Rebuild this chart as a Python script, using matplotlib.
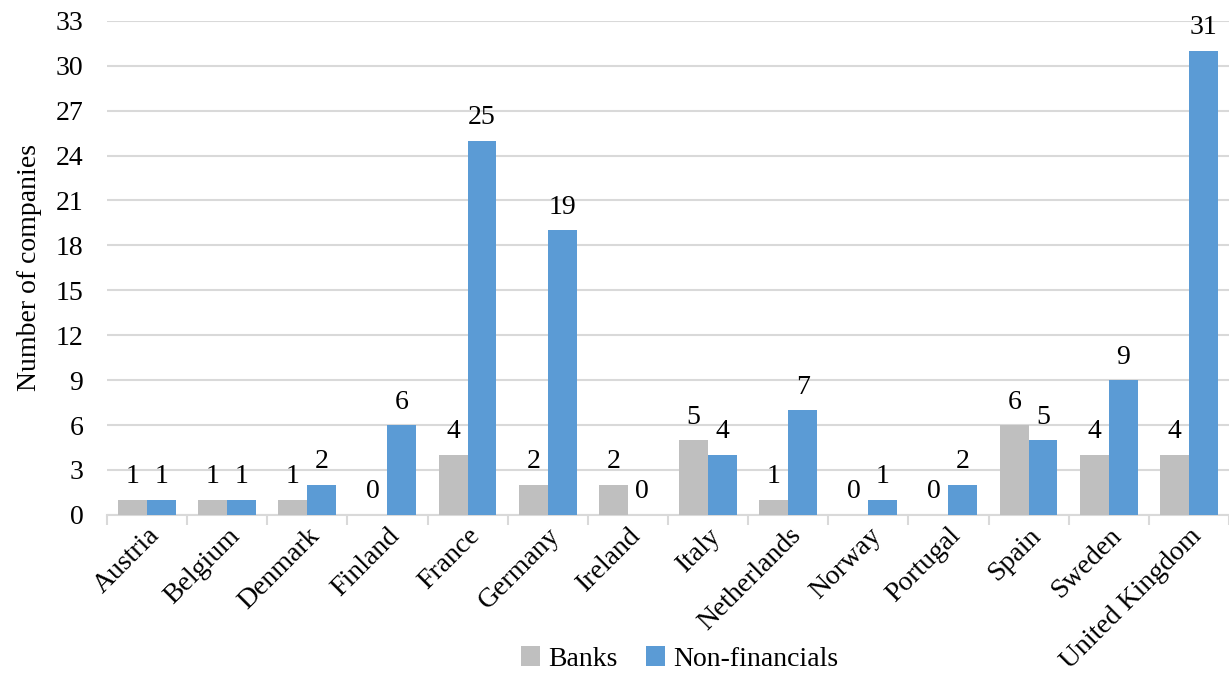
import numpy as np
import matplotlib.pyplot as plt

countries = ['Austria', 'Belgium', 'Denmark', 'Finland', 'France', 'Germany',
             'Ireland', 'Italy', 'Netherlands', 'Norway', 'Portugal', 'Spain',
             'Sweden', 'United Kingdom']
banks = [1, 1, 1, 0, 4, 2, 2, 5, 1, 0, 0, 6, 4, 4]
nonfin = [1, 1, 2, 6, 25, 19, 0, 4, 7, 1, 2, 5, 9, 31]

plt.rcParams['font.family'] = ['Liberation Serif', 'DejaVu Serif']
plt.rcParams['font.size'] = 20

fig = plt.figure(figsize=(12.29, 6.73), dpi=100)
ax = fig.add_axes([0.087, 0.235, 0.913, 0.734])

x = np.arange(len(countries))
w = 0.36
b1 = ax.bar(x - w / 2, banks, w, color='#BFBFBF', label='Banks', zorder=3)
b2 = ax.bar(x + w / 2, nonfin, w, color='#5B9BD5', label='Non-financials', zorder=3)

# value labels above each bar
for bars in (b1, b2):
    for r in bars:
        h = r.get_height()
        ax.text(r.get_x() + r.get_width() / 2, h + 0.7, f'{int(h)}',
                ha='center', va='bottom', fontsize=20)

ax.set_xlim(-0.5, len(countries) - 0.5)
ax.set_ylim(0, 33)
ax.set_yticks(range(0, 34, 3))
ax.yaxis.grid(True, color='#D9D9D9', linewidth=1.5, zorder=0)
ax.tick_params(axis='y', length=0, pad=17)

ax.set_xticks(x)
ax.set_xticklabels(countries, rotation=45, ha='right', rotation_mode='anchor')
ax.tick_params(axis='x', which='major', length=0, pad=6)
ax.set_xticks(np.arange(-0.5, len(countries), 1), minor=True)
ax.tick_params(axis='x', which='minor', length=7, color='#D9D9D9', width=1.5)

for s in ['top', 'right', 'left']:
    ax.spines[s].set_visible(False)
ax.spines['bottom'].set_color('#D9D9D9')
ax.spines['bottom'].set_linewidth(1.5)

ax.set_ylabel('Number of companies', labelpad=10)

fig.legend(handles=[b1, b2], loc='lower center', bbox_to_anchor=(0.553, -0.035),
           ncol=2, frameon=False, handlelength=0.7, handleheight=0.7,
           handletextpad=0.3, columnspacing=1.0, fontsize=20)

fig.savefig('out.png', dpi=100)
